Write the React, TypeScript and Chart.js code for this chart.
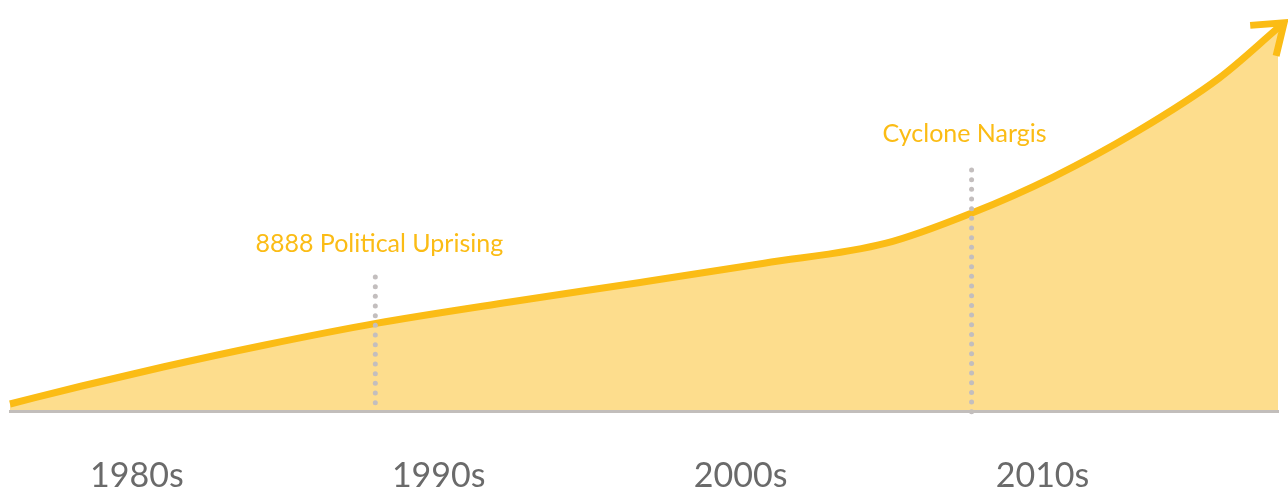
import React, { useEffect, useRef } from "react";
import { Chart, registerables } from "chart.js";

Chart.register(...registerables);

// Growth curve (decimal year, index value 0–100)
const YEARS = [1975.8, 1978.18, 1980.87, 1984.25, 1987.92, 1992.36, 1996.67, 2000.78, 2004.82, 2007.66, 2010.35, 2013.1, 2015.85, 2017.8];
const GROWTH = [1.7, 6.08, 10.71, 16.06, 21.31, 26.52, 31.27, 35.94, 40.83, 48.18, 56.93, 67.88, 81.0, 93.2];

// Axis ticks
const TICK_YEARS = [1980, 1990, 2000, 2010];
const TICK_LABELS = ["1980s", "1990s", "2000s", "2010s"];

// Events
const EVENT_YEARS = [1987.9, 2007.65];
const EVENT_LABELS = ["8888 Political Uprising", "Cyclone Nargis"];

const LINE_COLOR = "#FBBC15";
const FILL_COLOR = "#FDDD8D";
const BASE_COLOR = "#C2BEBB";
const DOT_COLOR = "#C3BEBE";
const TEXT_GRAY = "#6A6A6A";

// annotation layout (pixels)
const EVENT_LAYOUT = [
  { dotTop: 277, dotCount: 14, labelBaseline: 252, labelDx: 4 },
  { dotTop: 170, dotCount: 26, labelBaseline: 142, labelDx: -7 },
];

const annotationPlugin = {
  id: "events",
  afterDatasetsDraw(chart: any) {
    const ctx = chart.ctx;
    const xs = chart.scales.x;
    const meta = chart.getDatasetMeta(0);
    const pts = meta.data;
    // arrowhead
    const last = pts[pts.length - 1];
    const prev = pts[pts.length - 2];
    let dx = last.x - prev.x;
    let dy = last.y - prev.y;
    const len = Math.hypot(dx, dy);
    dx /= len;
    dy /= len;
    const tipX = last.x + dx * 8;
    const tipY = last.y + dy * 8;
    const back = Math.atan2(-dy, -dx);
    const spread = (36 * Math.PI) / 180;
    const arm = 34;
    ctx.save();
    ctx.strokeStyle = LINE_COLOR;
    ctx.lineWidth = 7;
    ctx.lineJoin = "miter";
    ctx.lineCap = "butt";
    ctx.beginPath();
    ctx.moveTo(last.x - dx * 2, last.y - dy * 2);
    ctx.lineTo(tipX, tipY);
    ctx.stroke();
    ctx.beginPath();
    ctx.moveTo(tipX + Math.cos(back + spread) * arm, tipY + Math.sin(back + spread) * arm);
    ctx.lineTo(tipX, tipY);
    ctx.lineTo(tipX + Math.cos(back - spread) * arm, tipY + Math.sin(back - spread) * arm);
    ctx.stroke();

    // event dotted lines and labels
    EVENT_YEARS.forEach((yr, i) => {
      const lay = EVENT_LAYOUT[i];
      const x = xs.getPixelForValue(yr);
      ctx.fillStyle = DOT_COLOR;
      for (let k = 0; k < lay.dotCount; k++) {
        ctx.beginPath();
        ctx.arc(x, lay.dotTop + k * 9.67, 2.5, 0, Math.PI * 2);
        ctx.fill();
      }
      ctx.fillStyle = LINE_COLOR;
      ctx.font = "25px Lato";
      ctx.textAlign = "center";
      ctx.textBaseline = "alphabetic";
      ctx.fillText(EVENT_LABELS[i], x + lay.labelDx, lay.labelBaseline);
    });
    ctx.restore();
  },
};

export default function App() {
  const ref = useRef<HTMLCanvasElement | null>(null);
  useEffect(() => {
    document.body.style.margin = "0";
    const canvas = ref.current!;
    const chart = new Chart(canvas, {
      type: "line",
      data: {
        datasets: [
          {
            data: YEARS.map((x, i) => ({ x, y: GROWTH[i] })),
            borderColor: LINE_COLOR,
            backgroundColor: FILL_COLOR,
            borderWidth: 7,
            fill: "origin",
            pointRadius: 0,
            cubicInterpolationMode: "monotone",
            clip: false as any,
          },
        ],
      },
      options: {
        animation: false,
        responsive: false,
        devicePixelRatio: 1,
        layout: { padding: { left: 10, right: 10, top: 0, bottom: 0 } },
        plugins: { legend: { display: false }, tooltip: { enabled: false } },
        events: [],
        scales: {
          x: {
            type: "linear",
            min: 1975.8,
            max: 2017.8,
            afterBuildTicks: (scale: any) => {
              scale.ticks = TICK_YEARS.map((v) => ({ value: v }));
            },
            afterFit: (scale: any) => {
              scale.height = 84;
            },
            grid: { display: false, drawTicks: false },
            border: { display: true, color: BASE_COLOR, width: 3, z: 1 } as any,
            ticks: {
              autoSkip: false,
              maxRotation: 0,
              padding: 45,
              color: TEXT_GRAY,
              font: { family: "Lato", size: 34 },
              callback: (_v: any, i: number) => TICK_LABELS[i],
            },
          },
          y: {
            display: false,
            min: 0,
            max: 100,
          },
        },
      },
      plugins: [annotationPlugin],
    } as any);
    return () => chart.destroy();
  }, []);
  return (
    <div style={{ width: 1288, height: 495 }}>
      <canvas ref={ref} width={1288} height={495} style={{ width: 1288, height: 495, display: "block" }} />
    </div>
  );
}
